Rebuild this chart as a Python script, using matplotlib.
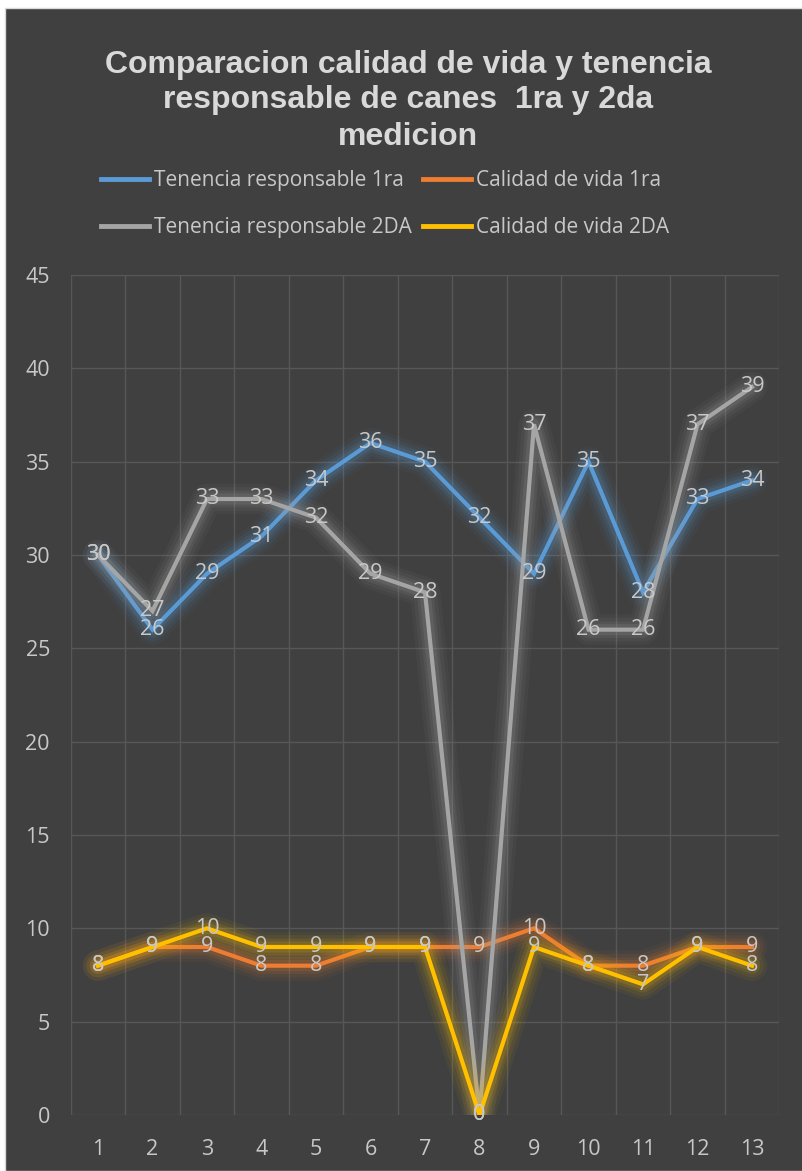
import matplotlib.pyplot as plt
from matplotlib.patches import Rectangle
from matplotlib.lines import Line2D

# data
meses = list(range(1, 14))
tenencia_1ra = [30, 26, 29, 31, 34, 36, 35, 32, 29, 35, 28, 33, 34]
calidad_1ra = [8, 9, 9, 8, 8, 9, 9, 9, 10, 8, 8, 9, 9]
tenencia_2da = [30, 27, 33, 33, 32, 29, 28, 0, 37, 26, 26, 37, 39]
calidad_2da = [8, 9, 10, 9, 9, 9, 9, 0, 9, 8, 7, 9, 8]
series_names = ["Tenencia responsable 1ra", "Calidad de vida 1ra",
                "Tenencia responsable 2DA", "Calidad de vida 2DA"]
y_ticks = list(range(0, 50, 5))

colors = ["#5B9BD5", "#ED7D31", "#A5A5A5", "#FFC000"]
BG = "#404040"
TXT = "#C8C8C8"
label_font = ["Open Sans", "DejaVu Sans"]

W, H = 802, 1171
fig = plt.figure(figsize=(W / 100, H / 100), dpi=100)
fig.patch.set_facecolor("white")
fig.patches.append(Rectangle((5 / W, 0), 1, (H - 8) / H, transform=fig.transFigure,
                             facecolor=BG, edgecolor="#D9D9D9", lw=1, zorder=-10))

ax = fig.add_axes([70.75 / W, 56 / H, 708.5 / W, 840 / H])
ax.set_facecolor(BG)
ax.patch.set_alpha(0)
for s in ax.spines.values():
    s.set_visible(False)

ax.set_xlim(0.5, 13.5)
ax.set_ylim(0, 45)
ax.set_yticks(y_ticks)
ax.set_xticks(meses)
ax.set_xticks([m + 0.5 for m in range(0, 14)], minor=True)
ax.grid(True, which="major", axis="y", color="#575757", lw=1)
ax.grid(True, which="minor", axis="x", color="#575757", lw=1)
ax.tick_params(which="both", length=0)
ax.tick_params(axis="y", pad=15)
ax.tick_params(axis="x", pad=17)
for lab in ax.get_xticklabels() + ax.get_yticklabels():
    lab.set_family(label_font)
    lab.set_fontsize(15.5)
    lab.set_color(TXT)
ax.set_axisbelow(True)

all_series = [tenencia_1ra, calidad_1ra, tenencia_2da, calidad_2da]
for i, (vals, col) in enumerate(zip(all_series, colors)):
    z = 2 + i
    # soft glow under each line
    for lw, a in [(22, 0.05), (17, 0.07), (12, 0.10), (8, 0.14)]:
        ax.plot(meses, vals, color=col, lw=lw, alpha=a, solid_capstyle="round",
                solid_joinstyle="round", zorder=z)
    ax.plot(meses, vals, color=col, lw=3, solid_joinstyle="miter", zorder=z + 0.5)

# value labels sit centred on the points, as in the original (8 and 7 at x=11 touch there too)
for vals in all_series:
    for x, y in zip(meses, vals):
        ax.text(x, y, str(y), ha="center", va="center", fontsize=15.5,
                family=label_font, color=TXT, zorder=10, clip_on=False)

# title
title_lines = ["Comparacion calidad de vida y tenencia",
               "responsable de canes  1ra y 2da", "medicion"]
for txt, yy in zip(title_lines, [65, 100, 137]):
    fig.text(408 / W, 1 - yy / H, txt, ha="center", va="center", fontsize=23,
             fontweight="bold", family="Liberation Sans", color="#D9D9D9")

# legend, two rows of two (matplotlib fills column by column)
order = [0, 2, 1, 3]
handles = [Line2D([], [], color=colors[k], lw=3.5) for k in order]
labels = [series_names[k] for k in order]
leg = fig.legend(handles, labels, ncol=2, frameon=False,
                 loc="center left", bbox_to_anchor=(82 / W, 1 - 204 / H),
                 handlelength=2.3, handletextpad=0.25, columnspacing=0.55,
                 labelspacing=1.25, prop={"family": label_font, "size": 15})
for t in leg.get_texts():
    t.set_color(TXT)

fig.savefig("out.png", dpi=100, facecolor=fig.get_facecolor())
